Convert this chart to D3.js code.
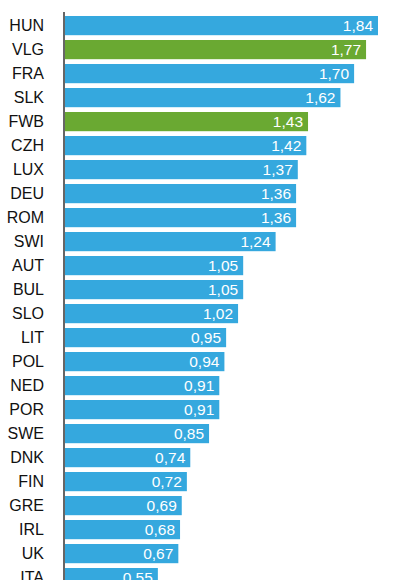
<!DOCTYPE html>
<html>
<head>
<meta charset="utf-8">
<script src="https://cdn.jsdelivr.net/npm/d3@7"></script>
<style>
  html, body { margin: 0; padding: 0; background: #fff; }
  svg { display: block; }
</style>
</head>
<body>
<script>
const countries = ["HUN", "VLG", "FRA", "SLK", "FWB", "CZH", "LUX", "DEU", "ROM", "SWI", "AUT", "BUL",
  "SLO", "LIT", "POL", "NED", "POR", "SWE", "DNK", "FIN", "GRE", "IRL", "UK", "ITA"];
const values = [1.84, 1.77, 1.70, 1.62, 1.43, 1.42, 1.37, 1.36, 1.36, 1.24, 1.05, 1.05,
  1.02, 0.95, 0.94, 0.91, 0.91, 0.85, 0.74, 0.72, 0.69, 0.68, 0.67, 0.55];
const highlighted = ["VLG", "FWB"];

const width = 396;
const height = 580;
const axisX = 64;

const data = countries.map((c, i) => ({ country: c, value: values[i] }));

const svg = d3.select("body")
  .append("svg")
  .attr("width", width)
  .attr("height", height);

const x = d3.scaleLinear()
  .domain([0, 1.84])
  .range([axisX, 378]);

const y = d3.scaleBand()
  .domain(countries)
  .range([11.2, 11.2 + 24.2 * 24])
  .paddingInner(0.2)
  .paddingOuter(0.2);

// bars
svg.append("g")
  .selectAll("rect")
  .data(data)
  .join("rect")
  .attr("x", x(0) + 1)
  .attr("y", d => y(d.country))
  .attr("width", d => x(d.value) - x(0) - 1)
  .attr("height", y.bandwidth())
  .attr("fill", d => highlighted.includes(d.country) ? "#6aa932" : "#35a8de");

// value labels
svg.append("g")
  .selectAll("text")
  .data(data)
  .join("text")
  .attr("x", d => x(d.value) - 5)
  .attr("y", d => y(d.country) + y.bandwidth() / 2 + 5.5)
  .attr("text-anchor", "end")
  .attr("fill", "#fff")
  .style("font-family", "Liberation Sans, Arial, sans-serif")
  .style("font-size", "15.5px")
  .text(d => d3.format(".2f")(d.value).replace(".", ","));

// category axis
const yAxis = d3.axisLeft(y).tickSize(0).tickPadding(20);
const gAxis = svg.append("g")
  .attr("transform", "translate(" + axisX + ",0)")
  .call(yAxis);

gAxis.select(".domain").remove();
gAxis.selectAll("text")
  .attr("dy", null)
  .attr("y", 5.5)
  .attr("fill", "#111")
  .style("font-family", "Liberation Sans, Arial, sans-serif")
  .style("font-size", "16px");

svg.append("line")
  .attr("x1", axisX)
  .attr("x2", axisX)
  .attr("y1", 12)
  .attr("y2", height)
  .attr("stroke", "#333")
  .attr("stroke-width", 1.5);
</script>
</body>
</html>
